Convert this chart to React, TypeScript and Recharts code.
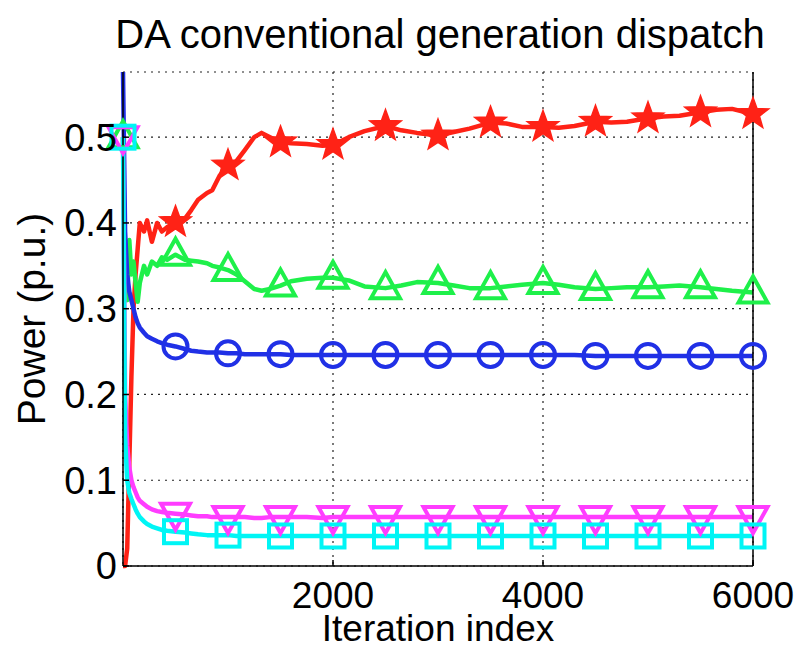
import { CartesianGrid, Line, LineChart, XAxis, YAxis } from "recharts";

const W = 799;
const H = 650;
const FONT = '"Liberation Sans", Arial, Helvetica, sans-serif';

// iteration index of each sampled point (markers every 500)
const ITERATIONS = [
  0, 20, 40, 60, 80, 100, 120, 140, 160, 200, 230, 275, 325, 370, 420, 500, 590, 650, 715, 800, 850, 920, 1000, 1080,
  1160, 1250, 1320, 1400, 1500, 1600, 1750, 1900, 2000, 2150, 2300, 2500, 2650, 2800, 3000, 3150, 3300, 3500, 3650,
  3800, 4000, 4150, 4300, 4500, 4650, 4800, 5000, 5150, 5300, 5500, 5650, 5800, 6000,
];

const GEN_RED = [
  0, 0, 0.02, 0.12, 0.22, 0.3, 0.34, 0.37, 0.4, 0.39, 0.403, 0.378, 0.4, 0.39, 0.395, 0.401, 0.405, 0.415, 0.427, 0.435,
  0.438, 0.455, 0.467, 0.472, 0.485, 0.5, 0.505, 0.5, 0.494, 0.493, 0.492, 0.49, 0.491, 0.5, 0.507, 0.513, 0.508, 0.505,
  0.502, 0.506, 0.51, 0.517, 0.516, 0.512, 0.512, 0.511, 0.513, 0.518, 0.517, 0.518, 0.522, 0.524, 0.525, 0.529, 0.532,
  0.533, 0.527,
];

const GEN_GREEN = [
  0.5, 0.33, 0.31, 0.38, 0.34, 0.355, 0.33, 0.308, 0.33, 0.35, 0.34, 0.355, 0.35, 0.36, 0.357, 0.363, 0.357, 0.356,
  0.355, 0.353, 0.35, 0.348, 0.345, 0.34, 0.332, 0.323, 0.321, 0.323, 0.327, 0.332, 0.335, 0.336, 0.336, 0.333, 0.326,
  0.324, 0.327, 0.331, 0.33, 0.327, 0.324, 0.324, 0.326, 0.328, 0.33, 0.328, 0.325, 0.323, 0.324, 0.325, 0.325, 0.326,
  0.327, 0.325, 0.323, 0.321, 0.319,
];

const GEN_BLUE = [
  0.576, 0.39, 0.34, 0.32, 0.31, 0.3, 0.29, 0.283, 0.278, 0.272, 0.268, 0.265, 0.262, 0.26, 0.258, 0.256, 0.253, 0.251,
  0.25, 0.249, 0.249, 0.249, 0.248, 0.248, 0.247, 0.247, 0.247, 0.247, 0.247, 0.246, 0.246, 0.246, 0.246, 0.246, 0.246,
  0.246, 0.246, 0.246, 0.246, 0.246, 0.246, 0.246, 0.246, 0.246, 0.246, 0.246, 0.246, 0.245, 0.245, 0.245, 0.245, 0.245,
  0.245, 0.245, 0.245, 0.245, 0.245,
];

const GEN_MAGENTA = [
  0.5, 0.2, 0.14, 0.115, 0.1, 0.092, 0.086, 0.08, 0.076, 0.072, 0.069, 0.066, 0.064, 0.063, 0.062, 0.061, 0.06, 0.059,
  0.058, 0.058, 0.057, 0.057, 0.057, 0.057, 0.057, 0.056, 0.056, 0.057, 0.057, 0.057, 0.057, 0.056, 0.057, 0.057, 0.057,
  0.057, 0.057, 0.057, 0.057, 0.057, 0.057, 0.057, 0.057, 0.057, 0.057, 0.057, 0.057, 0.057, 0.057, 0.057, 0.057, 0.057,
  0.057, 0.057, 0.057, 0.057, 0.057,
];

const GEN_CYAN = [
  0.5, 0.15, 0.1, 0.085, 0.078, 0.072, 0.066, 0.061, 0.057, 0.052, 0.049, 0.046, 0.044, 0.042, 0.041, 0.04, 0.039, 0.038,
  0.037, 0.036, 0.036, 0.036, 0.036, 0.035, 0.035, 0.035, 0.035, 0.035, 0.035, 0.035, 0.035, 0.035, 0.035, 0.035, 0.035,
  0.035, 0.035, 0.035, 0.035, 0.035, 0.035, 0.035, 0.035, 0.035, 0.035, 0.035, 0.035, 0.035, 0.035, 0.035, 0.035, 0.035,
  0.035, 0.035, 0.035, 0.035, 0.035,
];

const X_TICKS = [2000, 4000, 6000];
const Y_TICKS = [0, 0.1, 0.2, 0.3, 0.4, 0.5];
const Y_MAX = 0.576;
const MARKER_EVERY = 500;

type Shape = "star" | "circle" | "triUp" | "triDown" | "square";

const SERIES: { key: string; values: number[]; color: string; shape: Shape; markFirst: boolean }[] = [
  { key: "red", values: GEN_RED, color: "#ff2216", shape: "star", markFirst: false },
  { key: "green", values: GEN_GREEN, color: "#1ef04a", shape: "triUp", markFirst: true },
  { key: "blue", values: GEN_BLUE, color: "#2030e6", shape: "circle", markFirst: false },
  { key: "magenta", values: GEN_MAGENTA, color: "#ff3cff", shape: "triDown", markFirst: true },
  { key: "cyan", values: GEN_CYAN, color: "#00f5f5", shape: "square", markFirst: true },
];

const data = ITERATIONS.map((it, i) => {
  const row: Record<string, number> = { it };
  SERIES.forEach((s) => (row[s.key] = s.values[i]));
  return row;
});

function starPoints(cx: number, cy: number, R: number, r: number) {
  const pts: string[] = [];
  for (let k = 0; k < 10; k++) {
    const rad = k % 2 === 0 ? R : r;
    const a = ((-90 + k * 36) * Math.PI) / 180;
    pts.push(`${cx + rad * Math.cos(a)},${cy + rad * Math.sin(a)}`);
  }
  return pts.join(" ");
}

function Marker({ shape, cx, cy, color }: { shape: Shape; cx: number; cy: number; color: string }) {
  const sw = 4;
  switch (shape) {
    case "star":
      return <polygon points={starPoints(cx, cy, 16.5, 6.8)} fill={color} stroke={color} strokeWidth={1.5} />;
    case "circle":
      return <circle cx={cx} cy={cy} r={12} fill="none" stroke={color} strokeWidth={sw} />;
    case "triUp":
      return (
        <polygon
          points={`${cx},${cy - 16} ${cx - 14.5},${cy + 10} ${cx + 14.5},${cy + 10}`}
          fill="none"
          stroke={color}
          strokeWidth={sw}
        />
      );
    case "triDown":
      return (
        <polygon
          points={`${cx - 14.5},${cy - 10} ${cx + 14.5},${cy - 10} ${cx},${cy + 16}`}
          fill="none"
          stroke={color}
          strokeWidth={sw}
        />
      );
    default:
      return <rect x={cx - 11.5} y={cy - 11.5} width={23} height={23} fill="none" stroke={color} strokeWidth={sw} />;
  }
}

const makeDot = (shape: Shape, color: string, markFirst: boolean) => (props: any) => {
  const { cx, cy, payload, index } = props;
  const key = `${shape}-${index}`;
  const it = payload?.it;
  if (cx == null || cy == null || it % MARKER_EVERY !== 0 || (it === 0 && !markFirst)) return <g key={key} />;
  return (
    <g key={key}>
      <Marker shape={shape} cx={cx} cy={cy} color={color} />
    </g>
  );
};

const tickStyle = { fontSize: 37, fill: "#000", fontFamily: FONT };

export default function App() {
  return (
    <div style={{ position: "absolute", left: 0, top: 0, width: W, height: H, background: "#fff" }}>
      <LineChart width={W} height={H} data={data} margin={{ top: 72, right: 0, bottom: 0, left: 0 }}>
        <CartesianGrid stroke="#222" strokeWidth={1.2} strokeDasharray="2 5" />
        <XAxis
          dataKey="it"
          type="number"
          domain={[0, 6000]}
          ticks={X_TICKS}
          height={84}
          tickSize={-6}
          tickMargin={22}
          tick={tickStyle}
          axisLine={{ stroke: "#000", strokeWidth: 1.5 }}
          tickLine={{ stroke: "#000", strokeWidth: 1.5 }}
        />
        <XAxis
          xAxisId="top"
          orientation="top"
          dataKey="it"
          type="number"
          domain={[0, 6000]}
          ticks={X_TICKS}
          height={0}
          tickSize={-6}
          tickFormatter={() => ""}
          axisLine={{ stroke: "#000", strokeWidth: 1.5 }}
          tickLine={{ stroke: "#000", strokeWidth: 1.5 }}
        />
        <YAxis
          type="number"
          domain={[0, Y_MAX]}
          ticks={Y_TICKS}
          width={123}
          tickSize={-6}
          tickMargin={12}
          tick={{ ...tickStyle, fontSize: 38 }}
          tickFormatter={(v: number) => (v === 0 ? "0" : v.toFixed(1))}
          axisLine={{ stroke: "#000", strokeWidth: 1.5 }}
          tickLine={{ stroke: "#000", strokeWidth: 1.5 }}
        />
        <YAxis
          yAxisId="right"
          orientation="right"
          type="number"
          domain={[0, Y_MAX]}
          ticks={Y_TICKS}
          width={46}
          tickSize={-6}
          tickFormatter={() => ""}
          axisLine={{ stroke: "#000", strokeWidth: 1.5 }}
          tickLine={{ stroke: "#000", strokeWidth: 1.5 }}
        />
        {SERIES.map((s) => (
          <Line
            key={s.key}
            dataKey={s.key}
            type="linear"
            stroke={s.color}
            strokeWidth={4.5}
            strokeLinejoin="round"
            dot={makeDot(s.shape, s.color, s.markFirst)}
            activeDot={false}
            isAnimationActive={false}
          />
        ))}
      </LineChart>
      <svg
        width={W}
        height={H}
        style={{ position: "absolute", left: 0, top: 0, pointerEvents: "none" }}
        fontFamily={FONT}
        fill="#000"
      >
        <text x={440} y={48} fontSize={40} textAnchor="middle">
          DA conventional generation dispatch
        </text>
        <text x={438} y={641} fontSize={37} textAnchor="middle">
          Iteration index
        </text>
        <text x={45} y={319} fontSize={39} textAnchor="middle" transform="rotate(-90 45 319)">
          Power (p.u.)
        </text>
      </svg>
    </div>
  );
}
